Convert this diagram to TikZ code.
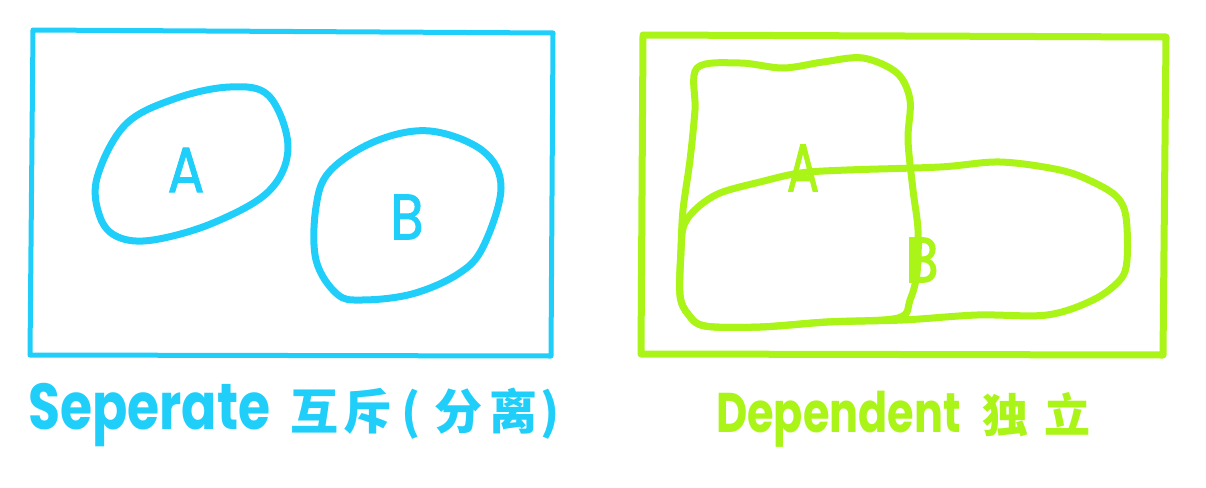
\documentclass[tikz,border=0pt]{standalone}
\usepackage{fontspec}
\usepackage{graphicx}
\setmainfont{Poppins}
\newfontfamily\markfont{Poppins}[FakeBold=1.6]
\newfontfamily\cjk{Noto Sans CJK SC}
\usepackage{tikz}
\usetikzlibrary{positioning}
\definecolor{skyblue}{RGB}{32,206,250}
\definecolor{limegreen}{RGB}{170,244,24}

\begin{document}
\begin{tikzpicture}[x=1pt, y=-1pt,
  frame/.style={line width=5pt, line cap=round, line join=round},
  blob/.style={line width=7pt, line cap=round, line join=round},
  letter/.style={inner sep=0pt, font=\markfont\fontsize{64}{64}\selectfont},
  caption/.style={anchor=base west, inner sep=0pt}]
\useasboundingbox (0,0) rectangle (1206,487);
% separate panel
\draw[frame, skyblue] (33,30) -- (553,33) -- (551,356) -- (30,355) -- cycle;
\draw[blob, skyblue] plot[smooth cycle, tension=0.6] coordinates
  {(230,87) (269,96) (288,147) (269,191) (213,223) (153,240) (118,237)
   (100,217) (97,178) (125,125) (174,99)};
\draw[blob, skyblue] plot[smooth cycle, tension=0.6] coordinates
  {(430,131) (483,151) (501,188) (483,247) (458,274) (412,294) (362,300)
   (337,294) (316,260) (316,207) (330,171) (376,141)};
\node[letter, text=skyblue] (sepA) at (186,170) {\scalebox{0.85}[1]{A}};
\node[letter, text=skyblue] (sepB) at (407,217) {\scalebox{0.85}[1]{B}};
\node[caption, text=skyblue] (sepcap) at (28,429)
  {\scalebox{1}[1.25]{\bfseries\fontsize{52}{52}\selectfont Seperate}\hspace{20pt}%
   {\cjk\bfseries\fontsize{48}{48}\selectfont 互\hspace{5pt}斥\hspace{10pt}(\hspace{14pt}分\hspace{7pt}离\hspace{3pt})}};
% dependent panel
\draw[frame, limegreen, line width=7pt] (643,35) -- (1166,37) -- (1163,355) -- (641,354) -- cycle;
\draw[blob, limegreen] plot[smooth cycle, tension=0.55] coordinates
  {(697,68) (740,63) (783,68) (823,62) (863,58) (897,73) (910,100) (908,140)
   (913,190) (918,230) (917,273) (910,300) (898,318) (827,322) (760,327)
   (705,326) (688,314) (680,295) (681,250) (683,210) (690,160) (695,110)};
\draw[blob, limegreen] plot[smooth cycle, tension=0.55] coordinates
  {(940,167) (1000,162) (1060,170) (1093,182) (1117,197) (1126,217) (1127,260)
   (1120,280) (1093,300) (1047,315) (977,315) (903,320) (827,322) (760,327)
   (705,326) (688,314) (680,295) (681,250) (684,225) (697,208) (720,193)
   (760,182) (800,173) (847,170)};
\node[letter, text=limegreen] (depA) at (803,168) {\scalebox{0.75}[1.05]{A}};
\node[letter, text=limegreen] (depB) at (922,260) {\scalebox{0.85}[1]{B}};
\node[caption, text=limegreen] (depcap) at (716,432)
  {\scalebox{1}[1.3]{\bfseries\fontsize{43}{43}\selectfont Dependent}\hspace{22pt}%
   {\cjk\bfseries\fontsize{46}{46}\selectfont 独\hspace{16pt}立}};
\end{tikzpicture}
\end{document}
